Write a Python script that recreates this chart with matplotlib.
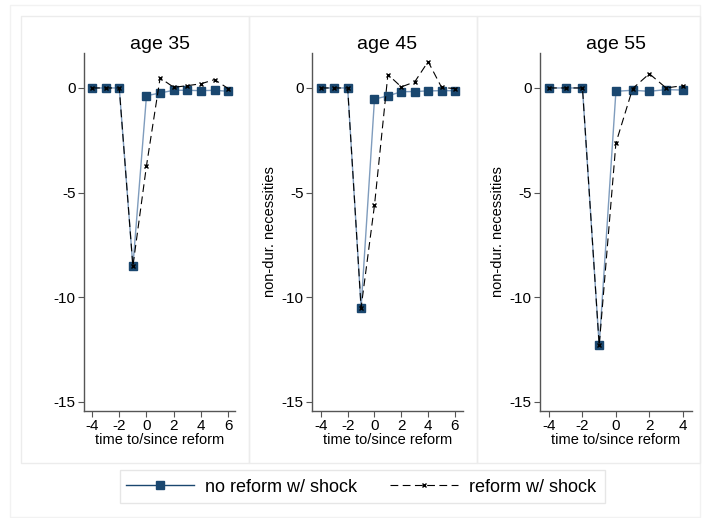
import numpy as np
import matplotlib.pyplot as plt
from matplotlib.patches import Rectangle
from matplotlib.lines import Line2D

plt.rcParams['font.family'] = ['Liberation Sans', 'DejaVu Sans']
plt.rcParams['axes.unicode_minus'] = False

# event time relative to reform
t_long = [-4, -3, -2, -1, 0, 1, 2, 3, 4, 5, 6]
t_short = [-4, -3, -2, -1, 0, 1, 2, 3, 4]

# age 35
noref_35 = [0, 0, 0, -8.52, -0.37, -0.24, -0.11, -0.11, -0.13, -0.11, -0.16]
ref_35 = [0, 0, 0, -8.52, -3.71, 0.48, 0.03, 0.11, 0.20, 0.40, -0.03]
# age 45
noref_45 = [0, 0, 0, -10.5, -0.53, -0.38, -0.18, -0.17, -0.14, -0.13, -0.13]
ref_45 = [0, 0, 0, -10.5, -5.6, 0.64, 0.05, 0.29, 1.26, 0.03, -0.03]
# age 55
noref_55 = [0, 0, 0, -12.3, -0.16, -0.11, -0.16, -0.08, -0.10]
ref_55 = [0, 0, 0, -12.3, -2.63, -0.03, 0.68, 0.0, 0.11]

titles = ["age 35", "age 45", "age 55"]
xticks_long = [-4, -2, 0, 2, 4, 6]
xticks_short = [-4, -2, 0, 2, 4]
yticks = [0, -5, -10, -15]

navy = "#1a476f"
line_blue = "#7f9cbd"
border = "#ececec"
dash = (0, (7, 4))

W, H = 705, 518
fig = plt.figure(figsize=(W / 100, H / 100), dpi=100, facecolor="w")


def fx(px):
    return px / W


def fy(py):
    return 1 - py / H


# outer frame and panel frames
fig.patches.append(Rectangle((fx(10), fy(517)), fx(690), 512 / H, transform=fig.transFigure,
                             fill=False, ec="#f2f2f2", lw=1))
for x0, x1 in [(21, 249), (249, 477), (477, 700)]:
    fig.patches.append(Rectangle((fx(x0), fy(463)), fx(x1 - x0), 447 / H, transform=fig.transFigure,
                                 fill=False, ec=border, lw=1))

panels = [
    (t_long, noref_35, ref_35, xticks_long, 84, 235, (-4.59, 6.5), False),
    (t_long, noref_45, ref_45, xticks_long, 312, 463, (-4.66, 6.6), True),
    (t_short, noref_55, ref_55, xticks_short, 540, 692, (-4.54, 4.55), True),
]

ytop, ybot = 53, 411
for i, (t, nr, rf, xt, left, right, xl, ylab) in enumerate(panels):
    ax = fig.add_axes([fx(left), fy(ybot), fx(right - left), (ybot - ytop) / H])
    ax.plot(t, nr, color=line_blue, lw=1.0, marker="s", ms=5.5, mfc=navy, mec=navy, zorder=2)
    ax.plot(t, rf, color="black", lw=0.8, ls=dash, marker="x", ms=3.5, mew=1.0, zorder=3)
    ax.set_xlim(*xl)
    ax.set_ylim(-15.43, 1.67)
    ax.set_xticks(xt)
    ax.set_yticks(yticks)
    ax.set_yticklabels([str(v) for v in yticks])
    ax.tick_params(labelsize=11, colors="black", width=0.8, length=4, color="#555555", pad=2)
    for side in ["top", "right"]:
        ax.spines[side].set_visible(False)
    for side in ["left", "bottom"]:
        ax.spines[side].set_color("#555555")
        ax.spines[side].set_linewidth(1.0)
    ax.set_title(titles[i], fontsize=14, pad=3)
    ax.set_xlabel("time to/since reform", fontsize=10.5, labelpad=0)
    if ylab:
        ax.set_ylabel("non-dur. necessities", fontsize=10.5, labelpad=3)

# legend box
fig.patches.append(Rectangle((fx(120), fy(503)), fx(485), 33 / H, transform=fig.transFigure,
                             fill=False, ec="#e6e6e6", lw=1))
handles = [
    Line2D([], [], color=navy, lw=1.0, marker="s", ms=5.5, mfc=navy, mec=navy),
    Line2D([], [], color="black", lw=0.8, ls=dash, marker="x", ms=3.5, mew=1.0),
]
fig.legend(handles, ["no reform w/ shock", "reform w/ shock"], loc="center",
           bbox_to_anchor=(fx(361), fy(487)), ncol=2, frameon=False, fontsize=13,
           handlelength=3.8, columnspacing=1.8, handletextpad=0.6)

fig.savefig("out.png", dpi=100, facecolor="w")
